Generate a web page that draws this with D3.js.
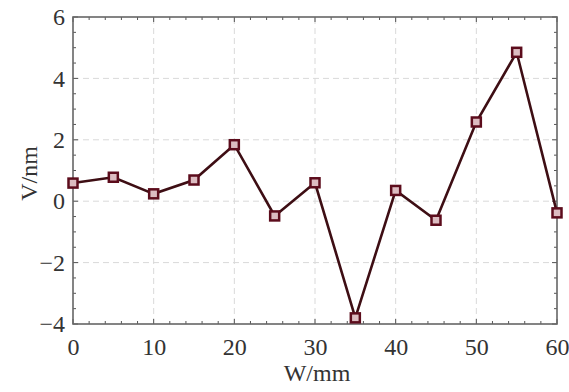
<!DOCTYPE html>
<html>
<head>
<meta charset="utf-8">
<script src="https://cdn.jsdelivr.net/npm/d3@7"></script>
<style>
  body { margin: 0; background: #fff; }
  svg { display: block; }
</style>
</head>
<body>
<svg id="chart"></svg>
<script>
// data
const widths = [0, 5, 10, 15, 20, 25, 30, 35, 40, 45, 50, 55, 60]
const volts = [0.59, 0.78, 0.24, 0.69, 1.84, -0.48, 0.6, -3.8, 0.35, -0.62, 2.58, 4.85, -0.38]
const xTicks = [0, 10, 20, 30, 40, 50, 60]
const yTicks = [-4, -2, 0, 2, 4, 6]

const width = 569, height = 392
const margin = { top: 17, right: 12, bottom: 68, left: 73 }
const fontFamily = "Liberation Serif"

const svg = d3.select("#chart")
    .attr("width", width)
    .attr("height", height)
    .attr("viewBox", `0 0 ${width} ${height}`)

const x = d3.scaleLinear()
    .domain([0, 60])
    .range([margin.left, width - margin.right])
const y = d3.scaleLinear()
    .domain([-4, 6])
    .range([height - margin.bottom, margin.top])

// dashed grid
svg.append("g")
    .attr("stroke", "#d9d9d9")
    .attr("stroke-dasharray", "6,4")
  .selectAll("line")
  .data(xTicks.slice(1, -1))
  .join("line")
    .attr("x1", d => x(d)).attr("x2", d => x(d))
    .attr("y1", y(-4)).attr("y2", y(6))
svg.append("g")
    .attr("stroke", "#d9d9d9")
    .attr("stroke-dasharray", "6,4")
  .selectAll("line")
  .data(yTicks.slice(1, -1))
  .join("line")
    .attr("x1", x(0)).attr("x2", x(60))
    .attr("y1", d => y(d)).attr("y2", d => y(d))

// inward ticks on all four sides
const xMinor = d3.range(0, 60.01, 2)
const yMinor = d3.range(-4, 6.01, 0.5)
const tk = svg.append("g").attr("stroke", "#555").attr("stroke-width", 1)
xMinor.forEach(v => {
  const len = v % 10 === 0 ? 5 : 3
  tk.append("line").attr("x1", x(v)).attr("x2", x(v)).attr("y1", y(-4)).attr("y2", y(-4) - len)
  tk.append("line").attr("x1", x(v)).attr("x2", x(v)).attr("y1", y(6)).attr("y2", y(6) + len)
})
yMinor.forEach(v => {
  const len = v % 2 === 0 ? 5 : 3
  tk.append("line").attr("x1", x(0)).attr("x2", x(0) + len).attr("y1", y(v)).attr("y2", y(v))
  tk.append("line").attr("x1", x(60)).attr("x2", x(60) - len).attr("y1", y(v)).attr("y2", y(v))
})

// frame
svg.append("rect")
    .attr("x", x(0)).attr("y", y(6))
    .attr("width", x(60) - x(0)).attr("height", y(-4) - y(6))
    .attr("fill", "none")
    .attr("stroke", "#666")
    .attr("stroke-width", 1.6)

// tick labels (axis lines removed, frame drawn above)
const fmt = d => d < 0 ? "\u2212" + Math.abs(d) : String(d)
svg.append("g")
    .attr("transform", `translate(0,${y(-4)})`)
    .call(d3.axisBottom(x).tickValues(xTicks).tickFormat(fmt).tickSize(0).tickPadding(14))
    .call(g => g.select(".domain").remove())
    .call(g => g.selectAll("text")
        .attr("fill", "#333")
        .style("font-family", fontFamily)
        .style("font-size", "24px"))
svg.append("g")
    .attr("transform", `translate(${x(0)},0)`)
    .call(d3.axisLeft(y).tickValues(yTicks).tickFormat(fmt).tickSize(0).tickPadding(8))
    .call(g => g.select(".domain").remove())
    .call(g => g.selectAll("text")
        .attr("fill", "#333")
        .style("font-family", fontFamily)
        .style("font-size", "24px"))

svg.append("text")
    .attr("x", 317).attr("y", 381)
    .attr("text-anchor", "middle")
    .attr("fill", "#333")
    .style("font-family", fontFamily)
    .style("font-size", "24px")
    .text("W/mm")
svg.append("text")
    .attr("transform", `translate(37,${(y(-4) + y(6)) / 2 + 3}) rotate(-90)`)
    .attr("text-anchor", "middle")
    .attr("fill", "#333")
    .style("font-family", fontFamily)
    .style("font-size", "24px")
    .text("V/nm")

// line + square markers
const pts = widths.map((w, i) => [w, volts[i]])
svg.append("path")
    .datum(pts)
    .attr("fill", "none")
    .attr("stroke", "#3e0e14")
    .attr("stroke-width", 2.6)
    .attr("d", d3.line().x(d => x(d[0])).y(d => y(d[1])))

svg.append("g")
  .selectAll("rect")
  .data(pts)
  .join("rect")
    .attr("x", d => x(d[0]) - 4.5)
    .attr("y", d => y(d[1]) - 4.5)
    .attr("width", 9).attr("height", 9)
    .attr("fill", "#dcbcc1")
    .attr("stroke", "#5c0c1c")
    .attr("stroke-width", 2.5)
</script>
</body>
</html>
